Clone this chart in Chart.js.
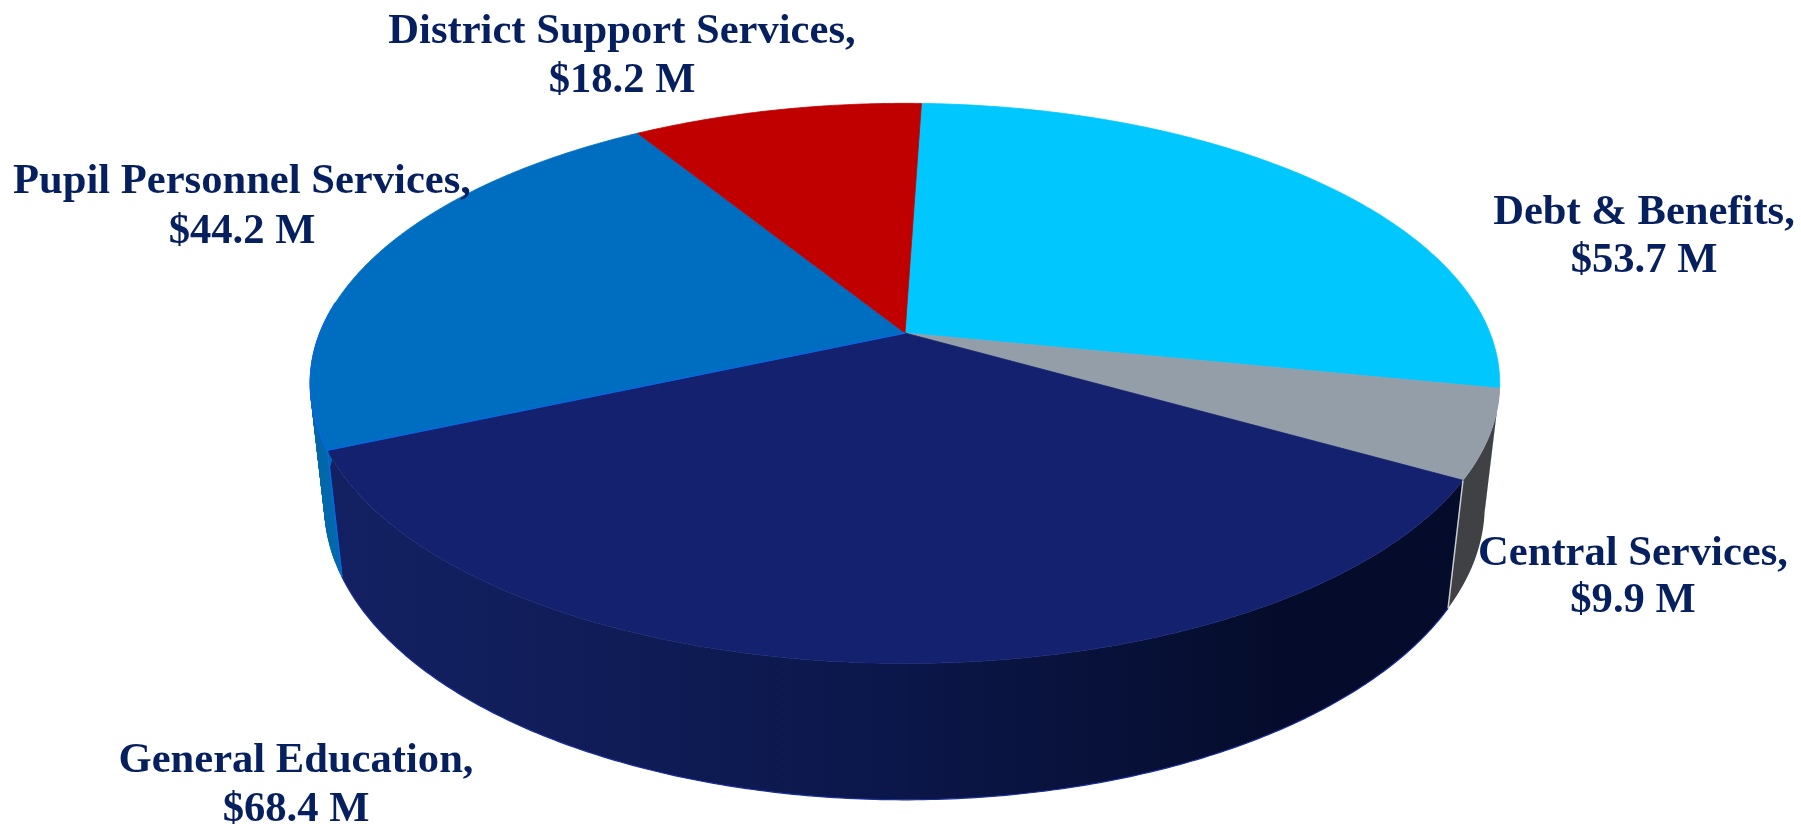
<!DOCTYPE html>
<html>
<head>
<meta charset="utf-8">
<title>Budget by function</title>
<script src="https://cdn.jsdelivr.net/npm/chart.js@4"></script>
<style>
  html, body { margin: 0; padding: 0; background: #fff; }
  canvas { display: block; }
</style>
</head>
<body>
<canvas id="chart-1" width="1801" height="824"></canvas>
<script>
// DATA
const categories = ['Debt & Benefits', 'Central Services', 'General Education', 'Pupil Personnel Services', 'District Support Services'];
const values = [53.7, 9.9, 68.4, 44.2, 18.2];

// STYLE
const topColors = ['#00c8ff', '#939ea8', '#14216f', '#006ec0', '#c00000'];
const edgeColors = ['#00c8ff', '#c4ccd2', '#1b2f9a', '#0a66e0', '#c00000'];
const wallColors = ['#00a0cc', '#404144', null, '#0068ac', '#900000'];
const textColor = '#06205f';
// centre x of label, baseline of first and second line
const labelPos = [[1644, 224, 272], [1633, 565, 612], [296, 772, 821], [242, 193, 243], [622, 43, 92]];

// perspective of the disc, fitted to the picture
const view = { x: 905, y: 333, a: 585, b: 271, p: 0.18, depth: 121, vx: 892, vy: 5387 };

function topPoint(angle) {
  const u = Math.cos(angle), v = -Math.sin(angle);
  const w = 1 + view.p * v;
  return { x: view.x + view.a * u / w, y: view.y - view.b * v / w, w: w };
}

function bottomPoint(angle) {
  const t = topPoint(angle);
  const dy = view.depth / Math.pow(t.w, 0.6);
  return { x: t.x + (view.vx - t.x) / (view.vy - t.y) * dy, y: t.y + dy };
}

function arcPoints(fn, start, end) {
  const n = Math.max(2, Math.ceil((end - start) / 0.01));
  const pts = [];
  for (let i = 0; i <= n; i++) pts.push(fn(start + (end - start) * i / n));
  return pts;
}

const pie3d = {
  id: 'pie3d',
  beforeDatasetDraw(chart) {
    const ctx = chart.ctx;
    const arcs = chart.getDatasetMeta(0).data;
    const lo = 11 * Math.PI / 180, hi = 185 * Math.PI / 180;
    const fold = 170 * Math.PI / 180;

    // side walls, only the part that faces the viewer
    arcs.forEach((el, i) => {
      const s = Math.max(el.startAngle, lo), e = Math.min(el.endAngle, hi);
      if (s >= e) return;
      const tops = arcPoints(topPoint, s, e);
      const bots = arcPoints(bottomPoint, s, e);
      let fill = wallColors[i];
      if (!fill) {
        fill = ctx.createLinearGradient(330, 0, 1450, 0);
        fill.addColorStop(0, '#132163');
        fill.addColorStop(0.5, '#0b174a');
        fill.addColorStop(0.85, '#050c2b');
        fill.addColorStop(1, '#050c2b');
      }
      ctx.fillStyle = fill;
      ctx.strokeStyle = fill;
      if (e > fold) {
        // the wall folds over at the silhouette, so one quad per step here
        ctx.lineWidth = 1;
        for (let k = 0; k < tops.length - 1; k++) {
          ctx.beginPath();
          ctx.moveTo(tops[k].x, tops[k].y);
          ctx.lineTo(tops[k + 1].x, tops[k + 1].y);
          ctx.lineTo(bots[k + 1].x, bots[k + 1].y);
          ctx.lineTo(bots[k].x, bots[k].y);
          ctx.closePath();
          ctx.fill();
          ctx.stroke();
        }
      } else {
        ctx.beginPath();
        tops.concat(bots.slice().reverse()).forEach((p, k) => k ? ctx.lineTo(p.x, p.y) : ctx.moveTo(p.x, p.y));
        ctx.closePath();
        ctx.fill();
      }
      if (i === 2) {
        ctx.strokeStyle = edgeColors[i];
        ctx.lineWidth = 1.2;
        ctx.beginPath();
        bots.forEach((p, k) => k ? ctx.lineTo(p.x, p.y) : ctx.moveTo(p.x, p.y));
        ctx.stroke();
      }
    });

    // top face
    arcs.forEach((el, i) => {
      const pts = arcPoints(topPoint, el.startAngle, el.endAngle);
      ctx.beginPath();
      ctx.moveTo(view.x, view.y);
      pts.forEach(p => ctx.lineTo(p.x, p.y));
      ctx.closePath();
      ctx.fillStyle = topColors[i];
      ctx.fill();
      ctx.strokeStyle = topColors[i];
      ctx.lineWidth = 0.8;
      ctx.stroke();
    });

    // bright edge of the Pupil Personnel slice and its wall
    const pupil = arcs[3];
    const edge = arcPoints(topPoint, pupil.startAngle, pupil.endAngle - 0.9);
    ctx.strokeStyle = edgeColors[3];
    ctx.lineWidth = 1.5;
    ctx.beginPath();
    ctx.moveTo(view.x, view.y);
    edge.forEach(p => ctx.lineTo(p.x, p.y));
    ctx.stroke();
    const c = topPoint(pupil.startAngle), d = bottomPoint(pupil.startAngle);
    ctx.beginPath();
    ctx.moveTo(c.x, c.y);
    ctx.lineTo(d.x, d.y);
    ctx.stroke();

    // light line down the corner between General Education and Central Services
    const a = topPoint(arcs[2].startAngle), b = bottomPoint(arcs[2].startAngle);
    ctx.strokeStyle = edgeColors[1];
    ctx.lineWidth = 1.5;
    ctx.beginPath();
    ctx.moveTo(a.x, a.y);
    ctx.lineTo(b.x, b.y);
    ctx.stroke();

    return false;
  },
  afterDraw(chart) {
    const ctx = chart.ctx;
    ctx.save();
    ctx.font = 'bold 42.6px "Liberation Serif"';
    ctx.fillStyle = textColor;
    ctx.textAlign = 'center';
    ctx.textBaseline = 'alphabetic';
    categories.forEach((name, i) => {
      const pos = labelPos[i];
      ctx.fillText(name + ',', pos[0], pos[1]);
      ctx.fillText('$' + values[i] + ' M', pos[0], pos[2]);
    });
    ctx.restore();
  }
};

const config = {
  type: 'pie',
  data: {
    labels: categories,
    datasets: [{
      data: values,
      backgroundColor: topColors,
      borderWidth: 0
    }]
  },
  options: {
    responsive: false,
    animation: false,
    rotation: 1.9,
    plugins: {
      legend: { display: false },
      tooltip: { enabled: false }
    }
  },
  plugins: [pie3d]
};

const myChart = new Chart(document.getElementById('chart-1').getContext('2d'), config);
</script>
</body>
</html>
